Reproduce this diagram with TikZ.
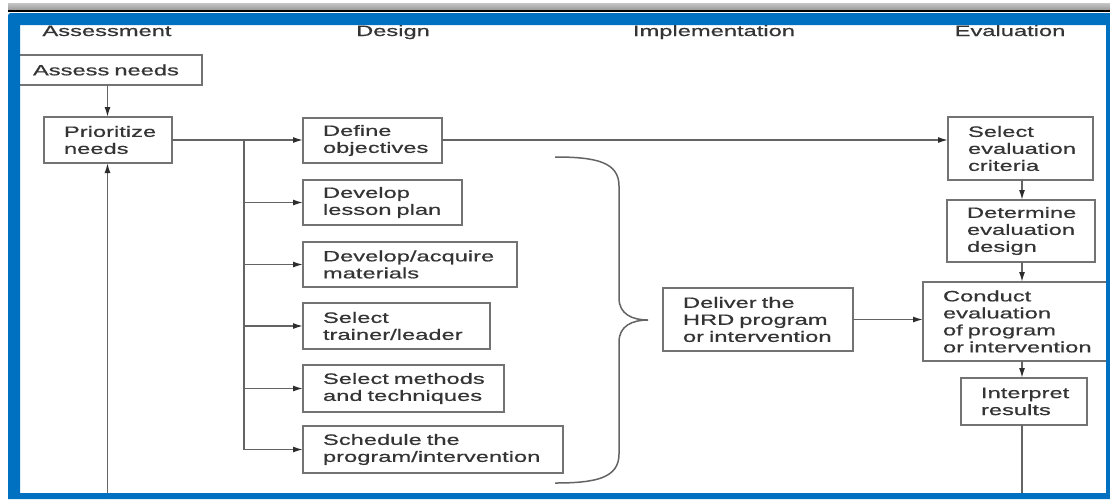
\documentclass[tikz,border=0pt]{standalone}
\usepackage{fontspec}
\setmainfont{Liberation Sans}[FakeStretch=1.58, FakeBold=0.6]
\usetikzlibrary{arrows.meta}

\definecolor{frameblue}{RGB}{0,112,192}
\definecolor{inkgray}{RGB}{52,52,52}
\definecolor{linegray}{RGB}{100,100,100}
\definecolor{boxgray}{RGB}{115,115,115}
\definecolor{tipgray}{RGB}{45,45,45}

% type used inside the step boxes: no hyphenation
\newcommand\hrdfont{\fontsize{15}{17}\selectfont\hyphenpenalty=10000\relax\exhyphenpenalty=10000\relax}

% \hrdbox{name}{left}{top}{right}{bottom}{text}
\newcommand\hrdbox[6]{%
  \pgfmathsetmacro\hrdtw{#4-#2-40}%
  \pgfmathsetmacro\hrdht{#5-#3}%
  \node[hbox, text width=\hrdtw pt, minimum height=\hrdht pt] (#1) at (#2,#3) {#6};}

\begin{document}
\begin{tikzpicture}[x=1pt,y=-1pt,
  hbox/.style={draw=boxgray, line width=1.4pt, anchor=north west, inner xsep=20pt,
    inner ysep=0pt, outer sep=0pt, align=left, text=inkgray, font=\hrdfont},
  head/.style={anchor=base, inner sep=0pt, text=inkgray, font=\hrdfont},
  conn/.style={draw=linegray, line width=1.5pt},
  arr/.style={conn, -{Latex[length=10pt,width=6pt,color=tipgray]}}]

\useasboundingbox (0,0) rectangle (1110,499);
\fill[white] (0,0) rectangle (1110,499);

% column headings
\node[head] (hA) at (107,36) {Assessment};
\node[head] (hD) at (393,36) {Design};
\node[head] (hI) at (714,36) {Implementation};
\node[head] (hE) at (1010,36) {Evaluation};

% steps
\hrdbox{assess}{13}{55}{202}{85}{Assess~needs}
\hrdbox{prio}{44}{117}{172}{163}{Prioritize\\needs}
\hrdbox{def}{303}{118}{442}{163}{Define\\objectives}
\hrdbox{lesson}{303}{180}{462}{225}{Develop\\lesson~plan}
\hrdbox{mat}{303}{242}{517}{287}{Develop/acquire\\materials}
\hrdbox{trainer}{303}{303}{490}{349}{Select\\trainer/leader}
\hrdbox{methods}{303}{365}{504}{412}{Select~methods\\and~techniques}
\hrdbox{sched}{303}{426}{563}{473}{Schedule~the\\program/intervention}
\hrdbox{deliver}{663}{288}{853}{351}{Deliver~the\\HRD~program\\or~intervention}
\hrdbox{crit}{948}{117}{1093}{180}{Select\\evaluation\\criteria}
\hrdbox{design}{947}{200}{1095}{262}{Determine\\evaluation\\design}
\hrdbox{conduct}{923}{282}{1114}{361}{Conduct\\evaluation\\of~program\\or~intervention}
\hrdbox{interp}{961}{378}{1087}{425}{Interpret\\results}

% assessment column
\draw[arr] (assess.south) -- (assess.south |- prio.north);
\coordinate (loopL) at (107.5,499);
\draw[arr] (loopL) -- (loopL |- prio.south);

% design branches
\coordinate (br) at (244,140);
\draw[arr] (prio.east |- br) -- (br -| def.west);
\draw[conn] (br) -- (br |- sched.west);
\foreach \n in {lesson,mat,trainer,methods,sched}
  \draw[arr] (br |- \n.west) -- (\n.west);

\draw[arr] (br -| def.east) -- (br -| crit.west);

% brace gathering the design steps
\draw[conn] (555,157) .. controls (596,157) and (619,162) .. (619,186)
  -- (619,298) .. controls (619,314) and (632,320) .. (648,320)
  .. controls (632,320) and (619,326) .. (619,342)
  -- (619,454) .. controls (619,478) and (596,483) .. (555,483);

\draw[arr] (deliver.east) -- (deliver.east -| conduct.west);

% evaluation column
\coordinate (ev) at (1022,0);
\draw[arr] (ev |- crit.south) -- (ev |- design.north);
\draw[arr] (ev |- design.south) -- (ev |- conduct.north);
\draw[arr] (ev |- conduct.south) -- (ev |- interp.north);
\coordinate (loopR) at (1022,499);
\draw[conn] (ev |- interp.south) -- (loopR);

% slide frame
\shade[top color=gray!45, bottom color=gray!80] (8,3) rectangle (1110,10);
\fill[black] (8,10) rectangle (1110,12);
\fill[frameblue, even odd rule]
  (8,499) -- (8,19) .. controls (8,13) .. (14,13) -- (1110,13) -- (1110,499) -- cycle
  (20,25) rectangle (1106,493);
\end{tikzpicture}
\end{document}
